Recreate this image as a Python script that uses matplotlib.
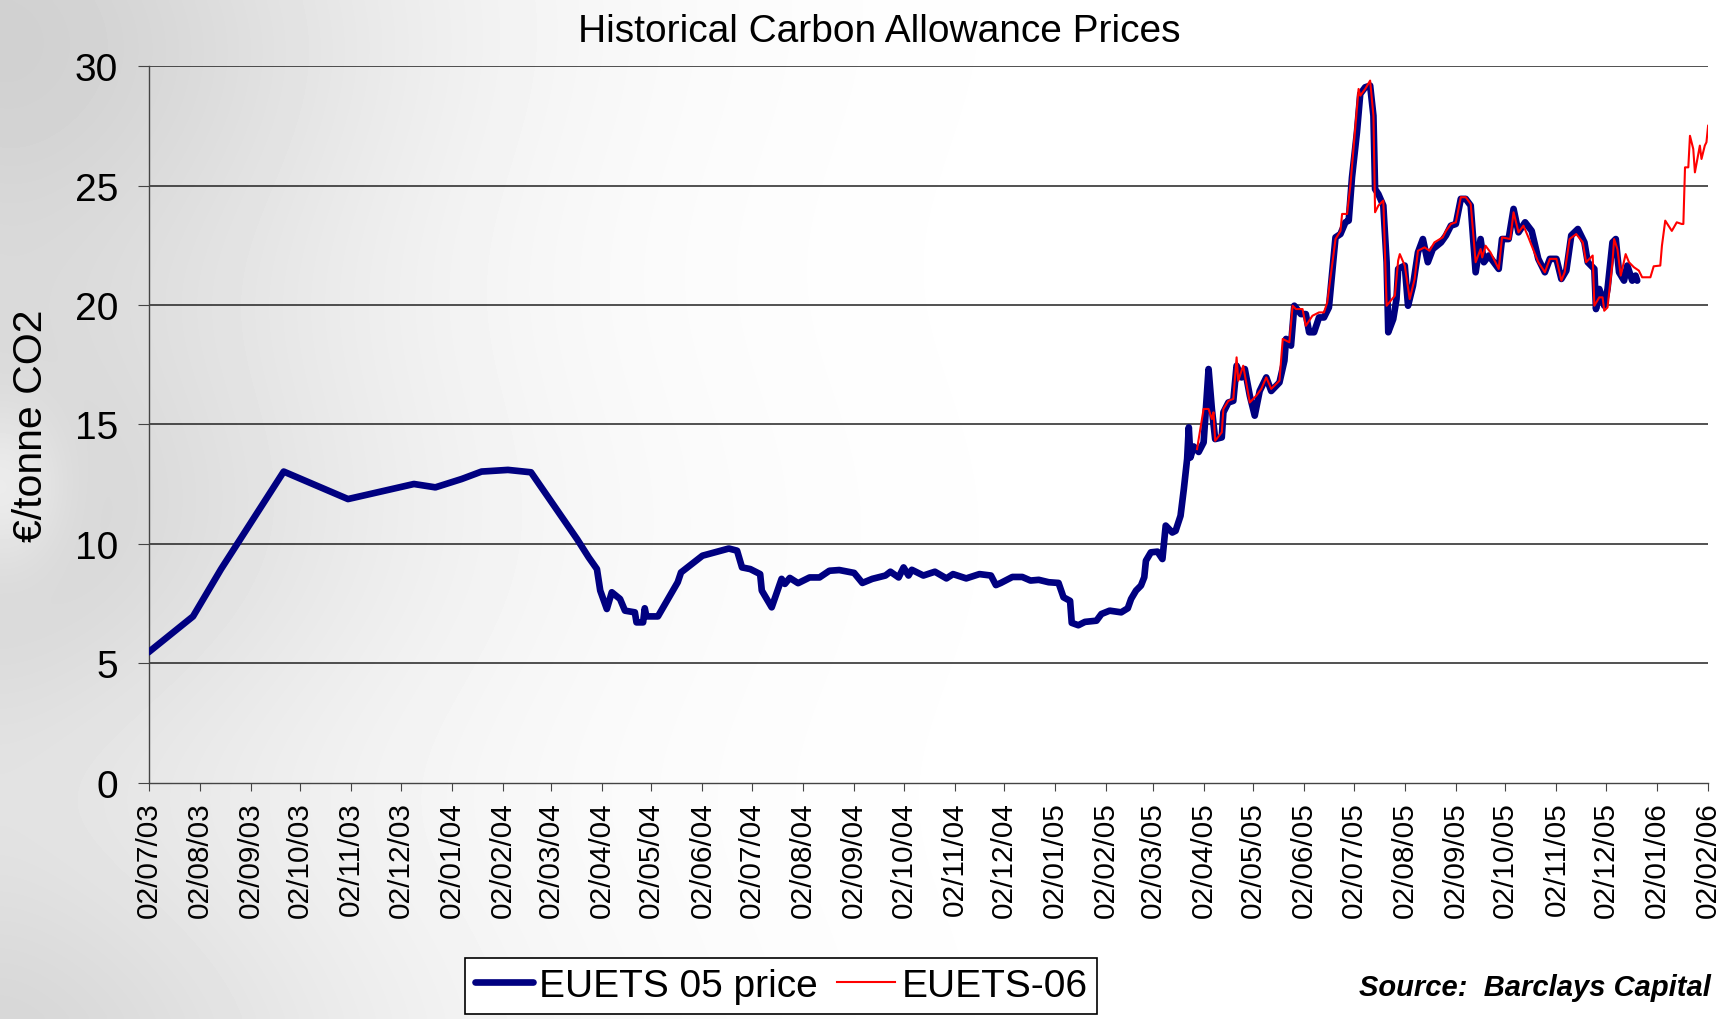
import numpy as np
import matplotlib
matplotlib.use("Agg")
import matplotlib.pyplot as plt
import matplotlib.dates as mdates

plt.rcParams['font.family'] = ['Liberation Sans', 'DejaVu Sans']

# days since 02/07/03 and price (EUR/tonne)
eu05_days = [0, 27, 44, 82, 121, 161, 174, 190, 202, 218, 232, 260, 267, 272, 274,
             278, 281, 286, 289, 295, 296, 300, 301, 302, 309, 321, 323, 336, 352,
             357, 360, 365, 371, 372, 378, 384, 386, 389, 394, 401, 407, 413, 419,
             428, 433, 439, 447, 450, 455, 458, 461, 463, 470, 477, 484, 488, 496,
             504, 511, 514, 517, 524, 530, 535, 540, 546, 552, 555, 559, 560, 564,
             568, 575, 578, 583, 590, 594, 596, 599, 602, 604, 605, 608, 612, 615,
             617, 621, 623, 626, 628, 630, 631, 632, 634, 637, 640, 643, 645, 647,
             651, 652, 655, 658, 660, 663, 665, 668, 671, 674, 678, 681, 686, 689,
             690, 693, 695, 699, 702, 704, 707, 710, 713, 716, 720, 723, 726, 728,
             730, 733, 735, 738, 741, 743, 744, 746, 749, 751, 752, 755, 757, 758,
             762, 764, 767, 770, 773, 776, 779, 784, 787, 790, 793, 796, 799, 802,
             805, 808, 810, 813, 819, 821, 825, 828, 831, 835, 839, 843, 847, 850,
             854, 857, 860, 863, 867, 871, 873, 877, 878, 880, 883, 885, 888, 890,
             892, 895, 897, 900, 902, 903]
eu05_price = [5.47, 6.97, 8.95, 13.03, 11.88, 12.51, 12.37, 12.72, 13.03, 13.10, 13.00,
              10.2, 9.44, 8.95, 8.05, 7.28, 7.98, 7.70, 7.21, 7.14, 6.72, 6.72, 7.31,
              6.97, 6.97, 8.40, 8.81, 9.51, 9.81, 9.72, 9.02, 8.95, 8.74, 8.05, 7.35,
              8.54, 8.33, 8.58, 8.36, 8.60, 8.60, 8.88, 8.91, 8.79, 8.37, 8.54, 8.68,
              8.84, 8.60, 9.02, 8.68, 8.92, 8.68, 8.84, 8.56, 8.74, 8.56, 8.74, 8.68,
              8.28, 8.37, 8.62, 8.62, 8.47, 8.50, 8.40, 8.37, 7.77, 7.62, 6.70, 6.60,
              6.74, 6.79, 7.07, 7.21, 7.14, 7.31, 7.70, 8.05, 8.26, 8.61, 9.30, 9.65,
              9.68, 9.37, 10.77, 10.48, 10.55, 11.18, 12.30, 13.56, 14.88, 13.62,
              14.08, 13.85, 14.25, 17.32, 15.65, 14.39, 14.46, 15.51, 15.92, 15.99,
              17.46, 16.97, 17.32, 16.21, 15.37, 16.40, 16.97, 16.40, 16.76, 17.67,
              18.58, 18.30, 19.97, 19.62, 19.62, 18.86, 18.86, 19.48, 19.48, 19.90,
              22.83, 22.97, 23.46, 23.53, 25.34, 27.23, 28.83, 29.11, 29.18, 27.92,
              24.85, 24.64, 24.16, 21.79, 18.86, 19.41, 20.25, 21.51, 21.65, 19.97,
              20.81, 22.20, 22.76, 21.79, 22.34, 22.62, 22.91, 23.32, 23.39, 24.44,
              24.44, 24.16, 21.37, 22.76, 21.79, 22.07, 21.51, 22.76, 22.76, 24.02,
              23.04, 23.46, 23.10, 21.93, 21.37, 21.93, 21.93, 21.09, 21.44, 22.91,
              23.18, 22.62, 21.79, 21.51, 19.83, 20.67, 19.97, 20.67, 22.62, 22.76,
              21.37, 21.02, 21.65, 21.02, 21.23, 21.02]

eu06_days = [636, 640, 643, 645, 646, 647, 651, 652, 655, 658, 660, 661, 664, 668,
             672, 675, 678, 681, 686, 688, 692, 694, 696, 700, 702, 706, 710, 713,
             715, 720, 723, 724, 727, 729, 734, 735, 738, 741, 743, 744, 746, 749,
             751, 756, 758, 759, 762, 765, 768, 770, 774, 777, 780, 785, 787, 790,
             793, 796, 799, 802, 805, 808, 809, 811, 814, 819, 821, 826, 828, 831,
             834, 837, 843, 847, 850, 854, 857, 859, 862, 866, 870, 872, 876, 877,
             880, 882, 883, 885, 888, 889, 891, 893, 896, 898, 901, 904, 906, 911,
             913, 917, 918, 920, 924, 927, 930, 931, 932, 934, 935, 937, 938, 941,
             942, 944, 945, 946]
eu06_price = [13.97, 15.65, 15.65, 15.23, 15.51, 14.32, 14.67, 15.65, 15.99, 16.07,
              17.81, 16.83, 17.46, 15.92, 16.21, 16.49, 16.97, 16.49, 16.83, 18.58,
              18.44, 19.97, 19.83, 19.83, 19.13, 19.55, 19.69, 19.69, 20.11, 22.76,
              23.10, 23.81, 23.81, 25.00, 29.04, 28.76, 29.04, 29.39, 27.92, 23.88,
              24.16, 24.37, 19.97, 20.39, 21.86, 22.13, 21.65, 20.25, 21.09, 22.27,
              22.41, 22.27, 22.62, 22.83, 23.10, 23.39, 23.46, 24.51, 24.51, 24.23,
              21.79, 22.34, 21.99, 22.48, 22.20, 21.51, 22.83, 22.76, 23.88, 23.04,
              23.32, 22.83, 21.79, 21.37, 21.93, 21.93, 21.02, 21.37, 22.76, 22.97,
              22.62, 21.79, 22.07, 19.97, 20.32, 20.32, 19.76, 19.90, 21.79, 22.76,
              22.34, 21.23, 22.13, 21.79, 21.58, 21.44, 21.16, 21.16, 21.62, 21.65,
              22.48, 23.53, 23.10, 23.46, 23.39, 23.39, 25.76, 25.76, 27.08, 26.53,
              25.55, 26.67, 26.11, 26.67, 26.81, 27.50]

start = np.datetime64('2003-07-02')
end = np.datetime64('2006-02-02')
eu05_dates = start + np.array(eu05_days).astype('timedelta64[D]')
eu06_dates = start + np.array(eu06_days).astype('timedelta64[D]')

fig = plt.figure(figsize=(17.25, 10.2), dpi=100)

# greyish cloudy backdrop fading to white
bg = fig.add_axes([0, 0, 1, 1], zorder=-5)
xx, yy = np.meshgrid(np.linspace(0, 1, 400), np.linspace(0, 1, 240))
shade = 0.16 * np.exp(-(xx / 0.25) ** 1.6) * (0.7 + 0.3 * np.cos(yy * 6.0) ** 2)
shade += 0.04 * np.exp(-((xx - 0.05) / 0.2) ** 2) * np.exp(-((yy - 0.2) / 0.25) ** 2)
shade -= 0.09 * np.exp(-(xx / 0.035) ** 2) * np.exp(-((yy - 0.48) / 0.08) ** 2)
bg.imshow(1 - np.clip(shade, 0, 1), cmap='gray', vmin=0, vmax=1, aspect='auto',
          extent=[0, 1, 0, 1], origin='upper', interpolation='bicubic')
bg.axis('off')

ax = fig.add_axes([0.0861, 0.2314, 0.9041, 0.7029])
ax.set_facecolor('none')

ax.plot(eu05_dates, eu05_price, color='#000080', lw=4.8, solid_joinstyle='round',
        solid_capstyle='round', label='EUETS 05 price', zorder=3)
ax.plot(eu06_dates, eu06_price, color='#ff0000', lw=1.5, label='EUETS-06', zorder=4)

ax.set_ylim(0, 30)
ax.set_yticks(range(0, 31, 5))
ax.set_xlim(start, end)
ax.xaxis.set_major_locator(mdates.MonthLocator(bymonthday=2))
ax.xaxis.set_major_formatter(mdates.DateFormatter('%d/%m/%y'))

for v in range(5, 31, 5):
    ax.axhline(v, color='#222222', lw=1.1, zorder=1)

for s in ['top', 'right']:
    ax.spines[s].set_visible(False)
for s in ['left', 'bottom']:
    ax.spines[s].set_color('#444444')
    ax.spines[s].set_linewidth(1.0)

ax.tick_params(axis='y', labelsize=28, length=8, color='#444444', pad=14)
ax.tick_params(axis='x', labelsize=21.5, length=6, color='#444444', labelrotation=90, pad=7)

ax.set_ylabel('€/tonne CO2', fontsize=29.5)
ax.yaxis.set_label_coords(-0.063, 0.5)

fig.text(0.510, 0.969, 'Historical Carbon Allowance Prices', fontsize=28,
         ha='center', va='center')

leg = fig.legend(loc='center', bbox_to_anchor=(0.4528, 0.0324), ncol=2, fontsize=28,
                 frameon=True, fancybox=False, edgecolor='black', framealpha=1,
                 handlelength=1.5, handletextpad=0.15, columnspacing=0.5,
                 borderpad=0.25, borderaxespad=0)
leg.get_frame().set_linewidth(1.2)

fig.text(0.992, 0.031, 'Source:  Barclays Capital', fontsize=21, fontweight='bold',
         fontstyle='italic', ha='right', va='center')

fig.savefig('out.png', dpi=100)
